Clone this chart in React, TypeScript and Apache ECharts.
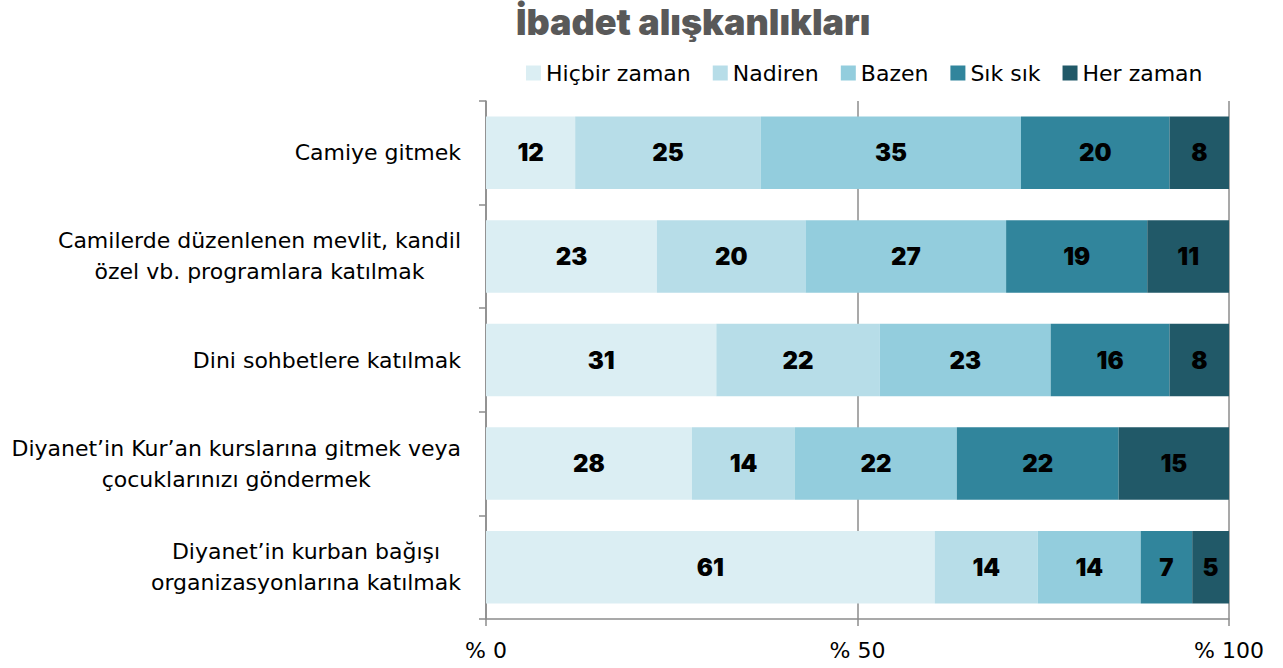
import React, { useEffect, useRef } from "react";
import * as echarts from "echarts";

const categories = [
  "Camiye gitmek",
  "Camilerde düzenlenen mevlit, kandil\nözel vb. programlara katılmak",
  "Dini sohbetlere katılmak",
  "Diyanet’in Kur’an kurslarına gitmek veya\nçocuklarınızı göndermek",
  "Diyanet’in kurban bağışı\norganizasyonlarına katılmak",
];
const seriesNames = ["Hiçbir zaman", "Nadiren", "Bazen", "Sık sık", "Her zaman"];
const hicbirZaman = [12, 23, 31, 28, 61];
const nadiren = [25, 20, 22, 14, 14];
const bazen = [35, 27, 23, 22, 14];
const sikSik = [20, 19, 16, 22, 7];
const herZaman = [8, 11, 8, 15, 5];
const colors = ["#dbeef3", "#b7dde8", "#93cddd", "#31859c", "#215968"];
const xTicks = [0, 50, 100];

const CAT_FONT = "DejaVu Sans";
const CAT_SIZE = 22;

function measure(text: string): number {
  const c = document.createElement("canvas").getContext("2d");
  if (!c) return text.length * 11;
  c.font = `${CAT_SIZE}px "${CAT_FONT}"`;
  return c.measureText(text).width;
}

export default function App() {
  const ref = useRef<HTMLDivElement>(null);
  useEffect(() => {
    if (!ref.current) return;
    const chart = echarts.init(ref.current, undefined, { renderer: "svg" });
    const raw = [hicbirZaman, nadiren, bazen, sikSik, herZaman];
    const totals = categories.map((_, i) => raw.reduce((s, arr) => s + arr[i], 0));
    const rich: Record<string, any> = {};
    categories.forEach((c, i) => {
      const w = Math.max(...c.split("\n").map(measure)) + 2;
      rich["r" + i] = {
        width: w,
        align: "center",
        fontFamily: CAT_FONT,
        fontSize: CAT_SIZE,
        color: "#000",
        lineHeight: 31,
      };
    });
    chart.setOption({
      animation: false,
      title: {
        text: "İbadet alışkanlıkları",
        left: 511,
        top: -1,
        textStyle: {
          fontFamily: "Inter",
          fontWeight: 900,
          fontSize: 36,
          color: "#595959",
        },
      },
      legend: {
        data: seriesNames,
        left: 521,
        top: 57,
        itemWidth: 15,
        itemHeight: 15,
        itemGap: 22,
        icon: "rect",
        textStyle: { fontFamily: CAT_FONT, fontSize: CAT_SIZE, color: "#000" },
      },
      grid: { left: 486, right: 54, top: 101, bottom: 49, containLabel: false },
      xAxis: {
        type: "value",
        min: 0,
        max: 100,
        interval: 50,
        axisLine: { show: true, lineStyle: { color: "#8c8c8c", width: 1.5 } },
        axisTick: { show: true, length: 7, lineStyle: { color: "#8c8c8c", width: 1.5 } },
        splitLine: { show: true, lineStyle: { color: "#8c8c8c", width: 1.5 } },
        axisLabel: {
          formatter: (v: number) => (xTicks.includes(v) ? "% " + v : ""),
          fontFamily: CAT_FONT,
          fontSize: CAT_SIZE,
          color: "#000",
          margin: 20,
        },
      },
      yAxis: {
        type: "category",
        inverse: true,
        data: categories,
        axisLine: { show: true, lineStyle: { color: "#8c8c8c", width: 1.5 } },
        axisTick: { show: true, length: 7, alignWithLabel: false, lineStyle: { color: "#8c8c8c", width: 1.5 } },
        axisLabel: {
          margin: 24,
          formatter: (v: string, i: number) =>
            v.split("\n").map((l) => `{r${i}|${l}}`).join("\n"),
          rich,
        },
      },
      series: seriesNames.map((name, si) => ({
        name,
        type: "bar",
        stack: "total",
        barWidth: "70%",
        itemStyle: { color: colors[si] },
        label: {
          show: true,
          position: "inside",
          formatter: (p: any) => String(raw[si][p.dataIndex]),
          fontFamily: "Inter",
          fontWeight: 900,
          fontSize: 24,
          color: "#000",
        },
        data: raw[si].map((v, i) => (v / totals[i]) * 100),
      })),
    });
    return () => chart.dispose();
  }, []);
  return (
    <div
      ref={ref}
      style={{ position: "fixed", left: 0, top: 0, width: 1283, height: 668, background: "#fff" }}
    />
  );
}
